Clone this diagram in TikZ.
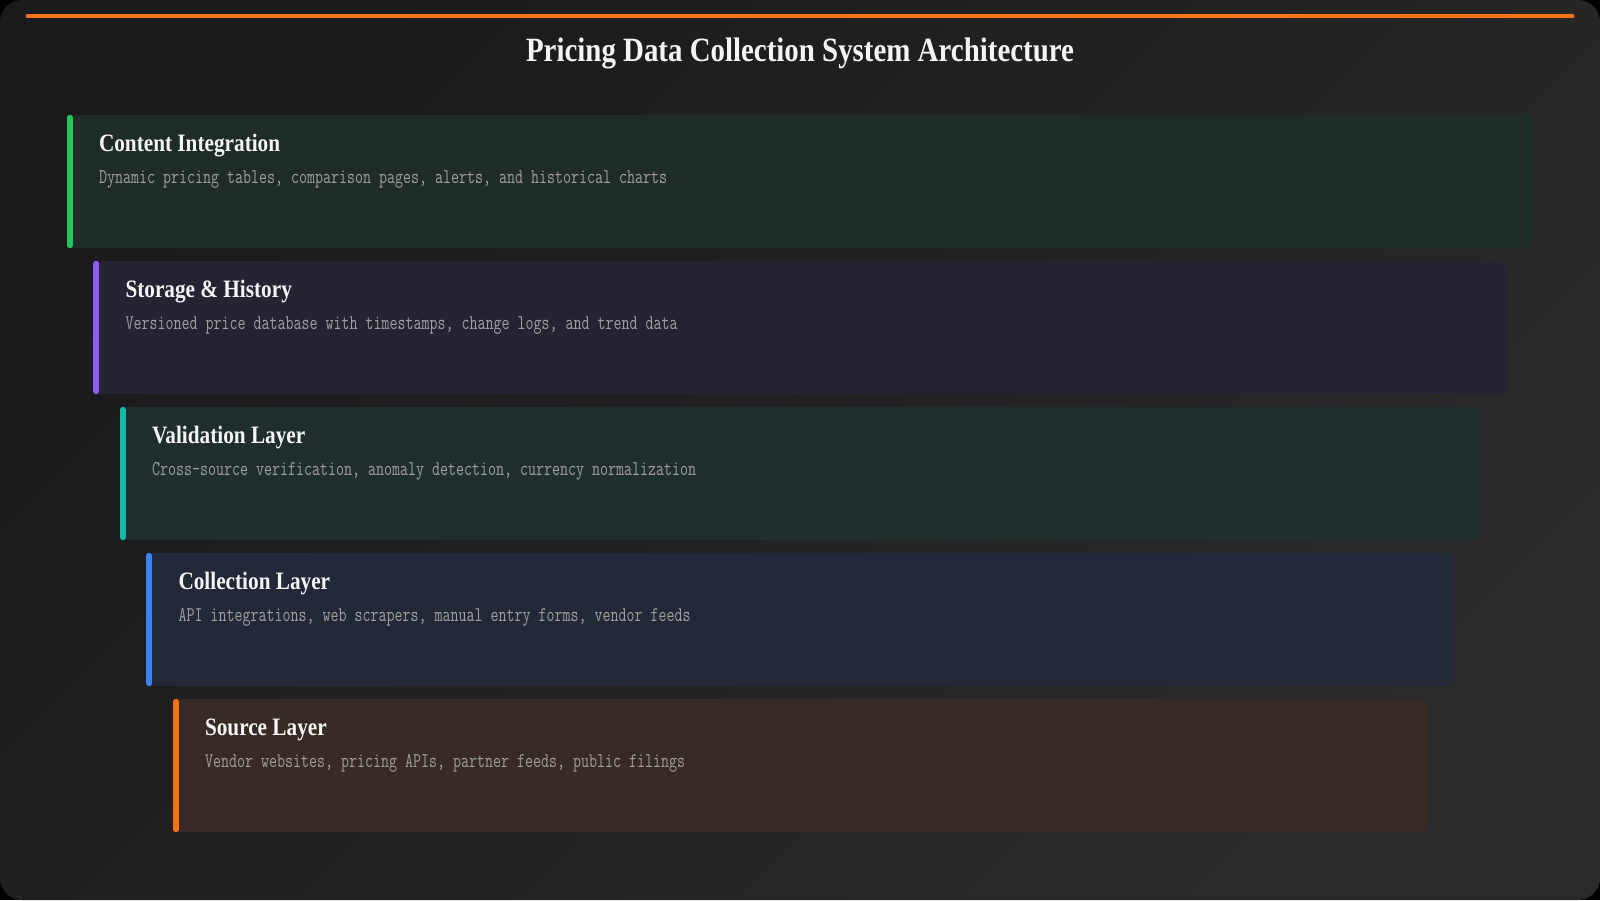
\documentclass[tikz,border=0pt]{standalone}
\usepackage{fontspec}
\setmainfont{Liberation Serif}
\newfontfamily\headfont[FakeStretch=0.85]{Liberation Serif}
\newfontfamily\descfont[FakeStretch=0.74]{Latin Modern Mono}
\usepackage{tikz}
\usetikzlibrary{positioning,calc}
\definecolor{bgcolor0}{RGB}{26,26,28}
\definecolor{bgcolor1}{RGB}{42,42,43}
\definecolor{titlecolor}{RGB}{245,245,245}
\definecolor{desccolor}{RGB}{158,158,158}
\definecolor{accent0}{RGB}{249,115,22}
\definecolor{accent1}{RGB}{59,130,246}
\definecolor{accent2}{RGB}{20,184,166}
\definecolor{accent3}{RGB}{139,92,246}
\definecolor{accent4}{RGB}{34,197,94}
\definecolor{fill0}{RGB}{55,42,36}
\definecolor{fill1}{RGB}{34,40,56}
\definecolor{fill2}{RGB}{31,45,44}
\definecolor{fill3}{RGB}{38,34,50}
\definecolor{fill4}{RGB}{31,43,37}
\tikzstyle{layer box}=[rectangle,rounded corners=8pt,minimum height=133pt,inner sep=0pt]
\tikzstyle{layer bar}=[line width=6pt,line cap=round]
\tikzstyle{layer title}=[anchor=base west,inner sep=0pt,text=titlecolor,font=\headfont\bfseries\fontsize{25}{30}\selectfont]
\tikzstyle{layer desc}=[anchor=base west,inner sep=0pt,text=desccolor,font=\descfont\fontsize{21}{25}\selectfont]
\tikzstyle{main title}=[anchor=base,inner sep=0pt,text=titlecolor,font=\headfont\bfseries\fontsize{34}{40}\selectfont]
\tikzstyle{top rule}=[line width=4pt,line cap=round,accent0]

\begin{document}
\begin{tikzpicture}[x=1pt,y=-1pt]
\def\firsty{181.5}
\def\stepy{146}
\def\boxwidth{1466}
\def\stepx{26.5}
    % frame
    \fill[black] (0,0) rectangle (1600,900);
    \shade[rounded corners=22pt,top color=bgcolor0,bottom color=bgcolor1,shading angle=45] (0,0) rectangle (1600,900);
    \useasboundingbox (0,0) rectangle (1600,900);

    \coordinate (rule-l) at (27.5,16.3);
    \coordinate (rule-r) at (1572.5,16.3);
    \draw[top rule] (rule-l) -- (rule-r);

    \node[main title] (title) at (800,61) {Pricing Data Collection System Architecture};

    \foreach \i/\fillc/\barc/\layertitle/\layerdesc in {
        1/fill4/accent4/{Content Integration}/{Dynamic pricing tables, comparison pages, alerts, and historical charts},
        2/fill3/accent3/{Storage \& History}/{Versioned price database with timestamps, change logs, and trend data},
        3/fill2/accent2/{Validation Layer}/{Cross-source verification, anomaly detection, currency normalization},
        4/fill1/accent1/{Collection Layer}/{API integrations, web scrapers, manual entry forms, vendor feeds},
        5/fill0/accent0/{Source Layer}/{Vendor websites, pricing APIs, partner feeds, public filings}}
    {
        \node[layer box,fill=\fillc,minimum width={\boxwidth-2*\stepx*(\i-1)}] (L-\i) at (800,\firsty+\stepy*\i-\stepy) {};
        \draw[layer bar,\barc] ([xshift=3pt,yshift=-3pt]L-\i.north west) -- ([xshift=3pt,yshift=3pt]L-\i.south west);
        \node[layer title] (T-\i) at ([xshift=32pt,yshift=-37pt]L-\i.north west) {\layertitle};
        \node[layer desc] (D-\i) at ([yshift=-32pt]T-\i.base west) {\layerdesc};
    }

\end{tikzpicture}
\end{document}
